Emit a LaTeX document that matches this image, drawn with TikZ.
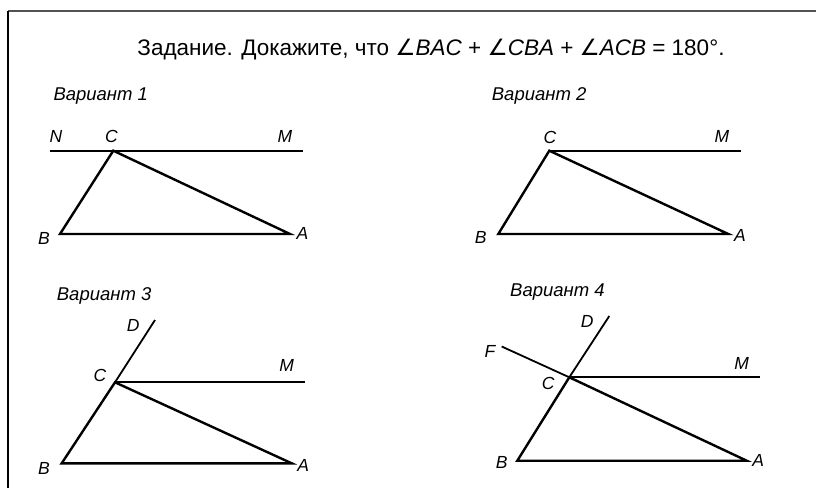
\documentclass[tikz,border=0pt]{standalone}
\usepackage{fontspec}
\setmainfont{Liberation Sans}
\newfontfamily\djv{DejaVu Sans}
\begin{document}
\begin{tikzpicture}[x=1pt,y=-1pt,
  thickln/.style={line width=2.4pt,line cap=round,line join=miter},
  thinln/.style={line width=1.8pt},
  lbl/.style={font=\fontsize{17.5}{19}\selectfont\itshape,inner sep=0pt},
  vlbl/.style={font=\fontsize{18.5}{21}\selectfont\itshape,inner sep=0pt,anchor=base west},
  ttl/.style={font=\fontsize{22.5}{26}\selectfont,inner sep=0pt,anchor=base}]
\useasboundingbox (0,0) rectangle (816,488);
\fill[white] (0,0) rectangle (816,488);
% frame
\draw[line width=1.6pt,black!68] (8,11) -- (816,11);
\draw[line width=1.4pt,black] (8,11) -- (8,488);
% title
\node[ttl] (title) at (431,55.7) {Задание. Докажите, что {\djv ∠}\textit{BAC} + {\djv ∠}\textit{CBA} + {\djv ∠}\textit{ACB} = 180°.};
% ---------------- Variant 1
\node[vlbl] (v1) at (53.3,100.7) {Вариант 1};
\coordinate (N1) at (50,150.7);
\coordinate (M1) at (303,150.7);
\coordinate (C1) at (113.3,150.7);
\coordinate (B1) at (60,234);
\coordinate (A1) at (290,234);
\draw[thinln] (N1) -- (M1);
\draw[thickln] (C1) -- (B1) -- (A1) -- cycle;
\node[lbl] (lN1) at (56,136) {N};
\node[lbl] (lC1) at (111.5,136) {C};
\node[lbl] (lM1) at (285,136) {M};
\node[lbl] (lB1) at (44,238) {B};
\node[lbl] (lA1) at (302.5,233) {A};
% ---------------- Variant 2
\node[vlbl] (v2) at (491.7,100.7) {Вариант 2};
\coordinate (C2) at (549.3,150.7);
\coordinate (M2) at (741,150.7);
\coordinate (B2) at (498.3,234);
\coordinate (A2) at (728.3,234);
\draw[thinln] (C2) -- (M2);
\draw[thickln] (C2) -- (B2) -- (A2) -- cycle;
\node[lbl] (lC2) at (550,137) {C};
\node[lbl] (lM2) at (722,136) {M};
\node[lbl] (lB2) at (480.7,237) {B};
\node[lbl] (lA2) at (740,235) {A};
% ---------------- Variant 3
\node[vlbl] (v3) at (56.7,300.7) {Вариант 3};
\coordinate (C3) at (115,382.3);
\coordinate (D3) at (155,320);
\coordinate (M3) at (305,382.3);
\coordinate (B3) at (61.7,463.3);
\coordinate (A3) at (291.7,463.3);
\draw[thinln] (C3) -- (D3);
\draw[thinln] (C3) -- (M3);
\draw[thickln] (C3) -- (B3) -- (A3) -- cycle;
\node[lbl] (lD3) at (133.3,325) {D};
\node[lbl] (lC3) at (100,375) {C};
\node[lbl] (lM3) at (286.7,365) {M};
\node[lbl] (lB3) at (44,468) {B};
\node[lbl] (lA3) at (303.3,465) {A};
% ---------------- Variant 4
\node[vlbl] (v4) at (510,296.7) {Вариант 4};
\coordinate (C4) at (569.3,377.3);
\coordinate (D4) at (609.3,316);
\coordinate (F4) at (501.7,346.5);
\coordinate (M4) at (760,377.3);
\coordinate (B4) at (517.3,460.7);
\coordinate (A4) at (746.7,460.7);
\draw[thinln] (C4) -- (D4);
\draw[thinln] (C4) -- (F4);
\draw[thinln] (C4) -- (M4);
\draw[thickln] (C4) -- (B4) -- (A4) -- cycle;
\node[lbl] (lD4) at (587.3,321.7) {D};
\node[lbl] (lF4) at (490,351.7) {F};
\node[lbl] (lC4) at (548.3,383.3) {C};
\node[lbl] (lM4) at (741.7,363.3) {M};
\node[lbl] (lB4) at (501.7,462.7) {B};
\node[lbl] (lA4) at (758.3,460.7) {A};
\end{tikzpicture}
\end{document}
